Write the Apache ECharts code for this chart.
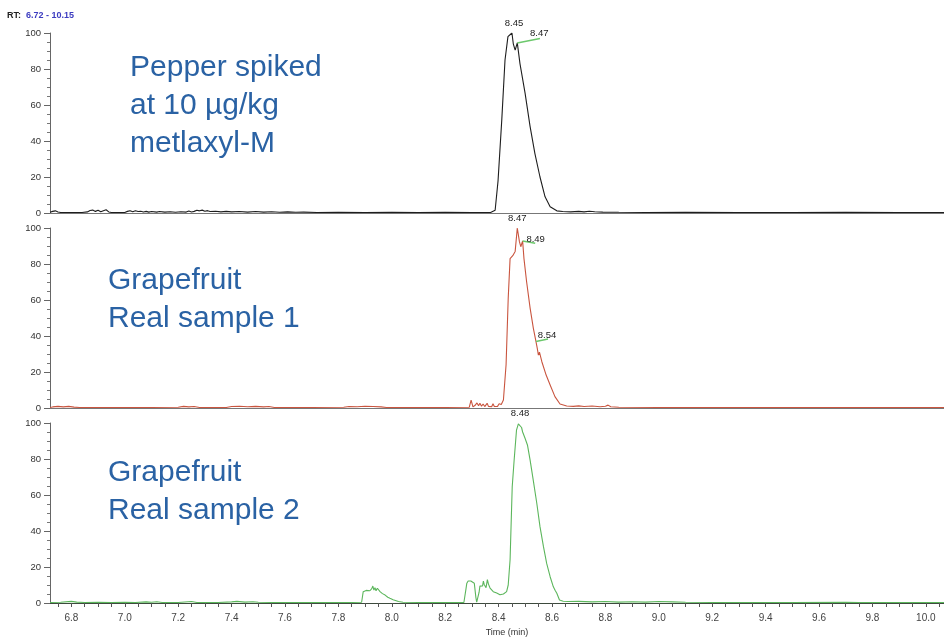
<!DOCTYPE html>
<html>
<head>
<meta charset="utf-8">
<script src="https://cdn.jsdelivr.net/npm/echarts@6/dist/echarts.min.js"></script>
<style>
  html, body { margin: 0; padding: 0; background: #fff; }
  #chart { width: 944px; height: 637px; }
</style>
</head>
<body>
<div id="chart"></div>
<script>
// Retention time window of the run (min) and the part of it shown on screen
const rtMin = 6.72;
const rtMax = 10.15;
const rtShownMax = 10.068;

// Labelled x-axis ticks (min)
const xTickLabels = [6.8, 7.0, 7.2, 7.4, 7.6, 7.8, 8.0, 8.2, 8.4, 8.6, 8.8, 9.0, 9.2, 9.4, 9.6, 9.8, 10.0];

// Relative abundance traces: [retention time (min), relative abundance (%)]
const pepperTrace = [
  [6.72,0.4],[6.73,0.9],[6.74,1.2],[6.75,0.6],[6.76,0.3],[6.8,0.3],[6.84,0.3],[6.86,0.6],[6.87,1.4],[6.875,0.8],
  [6.88,1.6],[6.89,0.9],[6.9,1.5],[6.91,0.7],[6.92,1.3],[6.93,1.8],[6.94,0.6],[6.95,0.3],[7.0,0.3],[7.01,0.9],
  [7.02,1.3],[7.03,0.7],[7.04,1.2],[7.05,0.8],[7.06,1.0],[7.07,0.6],[7.08,0.9],[7.09,0.5],[7.1,0.8],[7.12,0.5],
  [7.13,0.8],[7.15,0.5],[7.17,0.7],[7.19,0.4],[7.21,0.7],[7.23,0.5],[7.24,1.1],[7.25,0.6],[7.26,0.9],[7.27,1.5],
  [7.28,1.2],[7.29,1.6],[7.3,1.0],[7.31,1.3],[7.32,0.8],[7.34,1.0],[7.36,0.6],[7.38,0.9],[7.4,0.6],[7.43,0.8],
  [7.46,0.5],[7.49,0.8],[7.52,0.5],[7.55,0.7],[7.58,0.4],[7.61,0.6],[7.64,0.4],[7.67,0.5],[7.72,0.3],[7.8,0.4],
  [7.9,0.3],[8.0,0.4],[8.1,0.3],[8.2,0.4],[8.3,0.3],[8.37,0.3],[8.387,1.5],[8.398,18],[8.412,52],[8.424,85],
  [8.435,98],[8.45,100],[8.455,94],[8.462,90.5],[8.47,94.5],[8.48,83],[8.499,66.7],[8.518,48],[8.536,33],[8.555,20],
  [8.574,9],[8.593,3.5],[8.618,1.2],[8.64,0.8],[8.67,0.6],[8.7,0.9],[8.72,0.6],[8.74,1.0],[8.76,0.7],[8.79,0.5],
  [8.85,0.4],[8.95,0.3],[9.1,0.4],[9.3,0.3],[9.5,0.3],[9.7,0.4],[9.9,0.3],[10.15,0.3]
];

const sample1Trace = [
  [6.72,0.3],[6.73,0.6],[6.75,0.9],[6.77,0.6],[6.79,0.9],[6.81,0.5],[6.83,0.3],[6.95,0.3],[7.1,0.3],[7.2,0.4],
  [7.22,0.9],[7.24,0.6],[7.26,0.8],[7.28,0.3],[7.38,0.3],[7.4,0.8],[7.43,1.0],[7.46,0.7],[7.49,0.9],[7.52,0.6],
  [7.54,0.8],[7.56,0.3],[7.7,0.3],[7.82,0.4],[7.84,0.8],[7.87,0.7],[7.9,1.0],[7.93,0.8],[7.96,0.6],[7.98,0.3],
  [8.1,0.3],[8.2,0.3],[8.29,0.4],[8.297,4.4],[8.304,0.6],[8.312,1.5],[8.319,2.8],[8.325,1.2],[8.33,2.6],[8.336,1.0],
  [8.342,2.2],[8.348,0.8],[8.357,2.6],[8.362,0.9],[8.368,2.0],[8.374,0.7],[8.379,2.4],[8.384,0.8],[8.39,1.8],[8.396,0.9],
  [8.402,2.4],[8.41,2.0],[8.418,4.4],[8.428,24],[8.436,61],[8.443,83],[8.453,84.6],[8.462,87],[8.47,100],[8.478,92.4],
  [8.483,89.6],[8.49,92.8],[8.495,83],[8.505,70],[8.518,55.5],[8.53,44.4],[8.54,36.9],[8.545,33],[8.549,29.4],[8.553,31],
  [8.562,25.7],[8.578,18.3],[8.593,12.8],[8.611,6.3],[8.63,2.2],[8.655,1.1],[8.68,0.9],[8.7,1.2],[8.72,0.8],[8.75,1.1],
  [8.78,0.7],[8.8,1.0],[8.81,1.6],[8.82,0.7],[8.85,0.4],[9.0,0.3],[9.3,0.3],[9.6,0.3],[10.15,0.3]
];

const sample2Trace = [
  [6.72,0.3],[6.76,0.4],[6.8,0.9],[6.82,0.5],[6.85,0.3],[6.9,0.4],[6.95,0.3],[7.0,0.4],[7.04,0.3],[7.08,0.6],
  [7.1,0.4],[7.12,0.7],[7.14,0.3],[7.2,0.3],[7.25,0.8],[7.27,0.3],[7.35,0.3],[7.4,0.6],[7.42,0.9],[7.45,0.5],
  [7.48,0.7],[7.5,0.4],[7.55,0.3],[7.65,0.3],[7.75,0.3],[7.85,0.3],[7.887,0.4],[7.893,6.3],[7.9,5.5],[7.904,7.0],
  [7.91,6.0],[7.918,6.8],[7.925,8.0],[7.929,9.4],[7.933,7.2],[7.937,8.5],[7.941,6.8],[7.946,8.2],[7.956,6.3],[7.965,5.2],
  [7.975,4.4],[7.985,3.2],[7.993,2.6],[8.005,1.8],[8.012,1.3],[8.025,0.8],[8.042,0.4],[8.1,0.3],[8.2,0.3],[8.27,0.3],
  [8.274,0.5],[8.278,8],[8.281,11],[8.286,12.2],[8.29,11.4],[8.296,12.2],[8.303,11.7],[8.309,11],[8.312,10.6],[8.315,3],
  [8.318,0.5],[8.323,1.5],[8.327,6],[8.33,9.4],[8.336,10.5],[8.34,9.5],[8.343,12.2],[8.346,10.3],[8.349,11],[8.353,8.5],
  [8.358,13],[8.362,10.5],[8.368,8.3],[8.374,7.5],[8.38,6.3],[8.386,6.8],[8.393,5.5],[8.4,4.8],[8.405,4.6],[8.41,5.4],
  [8.418,5.0],[8.424,5.6],[8.43,6.3],[8.436,10],[8.443,24],[8.451,64.6],[8.458,79],[8.467,96],[8.474,99.5],[8.48,100],
  [8.486,97.5],[8.49,95],[8.499,91.5],[8.508,87.8],[8.518,79.4],[8.53,68],[8.543,55.4],[8.555,42.4],[8.568,31.3],[8.58,22],
  [8.593,14.6],[8.605,9],[8.612,7],[8.618,5.4],[8.628,1.7],[8.642,1.0],[8.66,0.8],[8.7,0.9],[8.75,0.6],[8.8,0.8],
  [8.85,0.5],[8.9,0.7],[8.95,0.5],[9.0,0.8],[9.05,0.6],[9.1,0.4],[9.2,0.3],[9.5,0.3],[9.7,0.4],[9.75,0.3],[10.15,0.3]
];

// Annotated peak apexes (retention times)
const pepperPeaks = [8.45, 8.47];
const sample1Peaks = [8.47, 8.49, 8.54];
const sample2Peaks = [8.48];

// Panel captions
const panelCaptions = [
  'Pepper spiked\nat 10 µg/kg\nmetlaxyl-M',
  'Grapefruit\nReal sample 1',
  'Grapefruit\nReal sample 2'
];

const traceColors = ['#1e1e1e', '#c9553f', '#5cb65c'];
const leaderColor = '#6cc86c';

// Label placement for each annotated apex (offset from the default spot above it)
const peakLabelOffsets = [
  { '8.45': [2, 0], '8.47': [22, 0] },
  { '8.47': [0, 0], '8.49': [13, 8], '8.54': [11, 3] },
  { '8.48': [0, 0] }
];
// Green leader segments running from an apex towards its shifted label
const leaderEnds = [
  [[8.47, 8.555, 97]],
  [[8.49, 8.537, 91.5], [8.54, 8.585, 38.3]],
  []
];

const traces = [pepperTrace, sample1Trace, sample2Trace];
const peaks = [pepperPeaks, sample1Peaks, sample2Peaks];

// Minor x ticks every 0.05 min
const xTickValues = [];
for (let k = Math.ceil(rtMin / 0.05); k * 0.05 <= rtShownMax + 1e-9; k++) {
  xTickValues.push(+(k * 0.05).toFixed(2));
}

const gridTops = [33, 228, 423];
const gridHeight = 180;
const font = 'Liberation Sans, Arial, Helvetica, sans-serif';

const grids = gridTops.map(t => ({
  left: 50, top: t, right: 0, height: gridHeight,
  outerBoundsMode: 'none', containLabel: false
}));

const xAxes = gridTops.map((t, i) => ({
  type: 'value',
  gridIndex: i,
  min: rtMin,
  max: rtShownMax,
  splitLine: { show: false },
  axisLine: { show: true, onZero: false, lineStyle: { color: i === 2 ? '#3d4a3d' : '#777', width: 1 } },
  axisTick: i === 2
    ? { show: true, customValues: xTickValues, length: 4, lineStyle: { color: '#555' } }
    : { show: false },
  axisLabel: i === 2
    ? { show: true, customValues: xTickLabels, formatter: v => v.toFixed(1), fontSize: 10, color: '#444', fontFamily: font, margin: 10 }
    : { show: false },
  name: i === 2 ? 'Time (min)' : '',
  nameLocation: 'middle',
  nameGap: 25,
  nameTextStyle: { fontSize: 9, color: '#333', fontFamily: font, padding: [0, 0, 0, 20] }
}));

const yAxes = gridTops.map((t, i) => ({
  type: 'value',
  gridIndex: i,
  min: 0,
  max: 100,
  interval: 20,
  splitLine: { show: false },
  axisLine: { show: true, lineStyle: { color: '#666', width: 1 } },
  axisTick: { show: true, length: 6, lineStyle: { color: '#666' } },
  minorTick: { show: true, splitNumber: 4, length: 3, lineStyle: { color: '#777' } },
  axisLabel: { fontSize: 9.5, color: '#333', fontFamily: font, margin: 9 }
}));

const series = traces.map((trace, i) => ({
  type: 'line',
  xAxisIndex: i,
  yAxisIndex: i,
  showSymbol: false,
  symbol: 'none',
  animation: false,
  z: 3,
  lineStyle: { color: traceColors[i], width: 1.1 },
  data: trace,
  markPoint: {
    silent: true,
    animation: false,
    symbol: 'circle',
    symbolSize: 1,
    itemStyle: { color: 'rgba(0,0,0,0)' },
    data: peaks[i].map(rt => {
      const apex = trace.find(d => Math.abs(d[0] - rt) < 1e-9);
      return {
        coord: [rt, apex[1]],
        label: {
          show: true,
          position: 'top',
          distance: 4,
          offset: peakLabelOffsets[i][rt.toFixed(2)] || [0, 0],
          formatter: rt.toFixed(2),
          fontSize: 9.5,
          color: '#222',
          fontFamily: font
        }
      };
    })
  },
  markLine: {
    silent: true,
    symbol: 'none',
    animation: false,
    label: { show: false },
    lineStyle: { color: leaderColor, width: 1.5, type: 'solid' },
    data: leaderEnds[i].map(([rtStart, rtEnd, abEnd]) => {
      const start = trace.find(d => Math.abs(d[0] - rtStart) < 1e-9);
      return [{ coord: [rtStart, start[1]] }, { coord: [rtEnd, abEnd] }];
    })
  }
}));

const captionTops = [49, 262, 454];
const captionLefts = [130, 108, 108];

const chart = echarts.init(document.getElementById('chart'), null, { renderer: 'canvas' });
chart.setOption({
  backgroundColor: '#ffffff',
  animation: false,
  title: {
    left: 7,
    top: 7,
    padding: 0,
    text: '{a|RT:} {b|6.72 - 10.15}',
    textStyle: {
      rich: {
        a: { fontSize: 9, color: '#222', fontFamily: font, fontWeight: 'bold' },
        b: { fontSize: 9, color: '#3c3cc0', fontFamily: font, fontWeight: 'bold' }
      }
    }
  },
  grid: grids,
  xAxis: xAxes,
  yAxis: yAxes,
  series: series,
  graphic: panelCaptions.map((txt, i) => ({
    type: 'text',
    left: captionLefts[i],
    top: captionTops[i],
    z: 10,
    style: {
      text: txt,
      font: '30px ' + font,
      fill: '#2a62a4',
      lineHeight: 38
    }
  }))
});
</script>
</body>
</html>
